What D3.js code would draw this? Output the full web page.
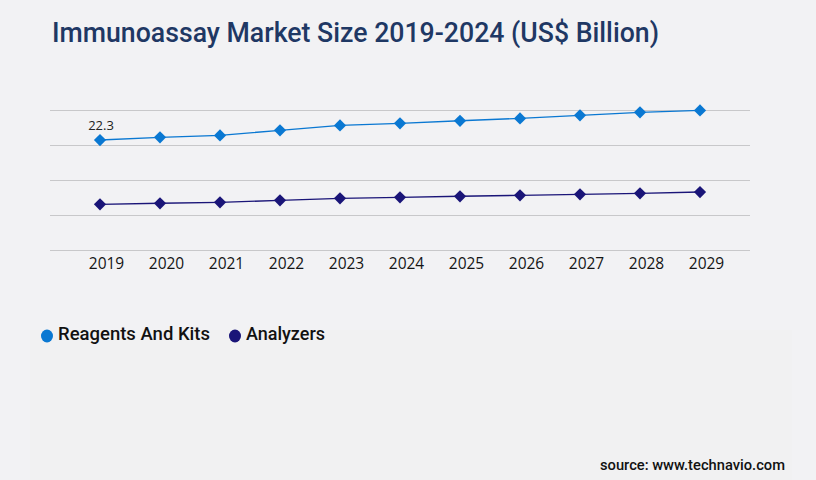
<!DOCTYPE html>
<html>
<head>
<meta charset="utf-8">
<script src="https://cdn.jsdelivr.net/npm/d3@7"></script>
<style>
  html, body { margin: 0; padding: 0; background: #f2f2f4; }
  svg { display: block; }
</style>
</head>
<body>
<svg id="chart" width="816" height="480"></svg>
<script>
// Данни
const years = ["2019", "2020", "2021", "2022", "2023", "2024", "2025", "2026", "2027", "2028", "2029"];
const reagentsAndKits = [22.3, 22.85, 23.25, 24.27, 25.28, 25.69, 26.21, 26.7, 27.31, 27.92, 28.32];
const analyzers = [9.26, 9.47, 9.67, 10.07, 10.48, 10.68, 10.89, 11.09, 11.29, 11.49, 11.76];
const yTicks = [0, 7.1, 14.2, 21.3, 28.4];

const series = [
  { name: "Reagents And Kits", values: reagentsAndKits, color: "#0a78d2" },
  { name: "Analyzers", values: analyzers, color: "#1a1578" },
];

const svg = d3.select("#chart");

// по-светъл панел отдолу
svg.append("rect")
  .attr("x", 30).attr("y", 330)
  .attr("width", 762).attr("height", 150)
  .attr("fill", "#f1f1f2");

svg.append("text")
  .attr("x", 52).attr("y", 42)
  .attr("font-family", "Roboto, sans-serif")
  .attr("font-weight", 500)
  .attr("font-size", 28)
  .attr("fill", "#1f3864")
  .attr("textLength", 607)
  .attr("lengthAdjust", "spacingAndGlyphs")
  .text("Immunoassay Market Size 2019-2024 (US$ Billion)");

const x = d3.scalePoint().domain(years).range([100, 700]);
const y = d3.scaleLinear().domain([0, 28.4]).range([250, 110]);

// хоризонтални линии
svg.append("g")
  .selectAll("line")
  .data(yTicks)
  .join("line")
  .attr("x1", 50).attr("x2", 750)
  .attr("y1", (d) => Math.round(y(d)) + 0.5)
  .attr("y2", (d) => Math.round(y(d)) + 0.5)
  .attr("stroke", "#c8c8ca")
  .attr("stroke-width", 1);

// ос X (етикетите са леко изместени надясно като в оригинала)
const xAxis = svg.append("g")
  .attr("transform", "translate(6,250)")
  .call(d3.axisBottom(x).tickSize(0).tickPadding(8));
xAxis.select(".domain").remove();
xAxis.selectAll("text")
  .attr("font-family", "'Open Sans', sans-serif")
  .attr("font-size", 15.5)
  .attr("fill", "#151515");

const line = d3.line()
  .x((d, i) => x(years[i]))
  .y((d) => y(d));

const diamond = d3.symbol().type(d3.symbolDiamond2).size(95);

series.forEach((s) => {
  const g = svg.append("g");
  g.append("path")
    .datum(s.values)
    .attr("d", line)
    .attr("fill", "none")
    .attr("stroke", s.color)
    .attr("stroke-width", 1.4);
  g.selectAll("path.pt")
    .data(s.values)
    .join("path")
    .attr("class", "pt")
    .attr("d", diamond)
    .attr("transform", (d, i) => `translate(${x(years[i])},${y(d)})`)
    .attr("fill", s.color);
});

// етикет на първата стойност
svg.append("text")
  .attr("x", x(years[0]) + 1)
  .attr("y", y(reagentsAndKits[0]) - 10)
  .attr("text-anchor", "middle")
  .attr("font-family", "'Open Sans', sans-serif")
  .attr("font-size", 13)
  .attr("fill", "#222")
  .text(reagentsAndKits[0]);

// легенда
const legendX = [47, 235];
const legend = svg.append("g")
  .selectAll("g")
  .data(series)
  .join("g")
  .attr("transform", (d, i) => `translate(${legendX[i]},336)`);
legend.append("ellipse")
  .attr("rx", 6).attr("ry", 6.5)
  .attr("fill", (d) => d.color);
legend.append("text")
  .attr("x", 11).attr("y", 4)
  .attr("font-family", "Roboto, sans-serif")
  .attr("font-weight", 500)
  .attr("font-size", 18)
  .attr("fill", "#111")
  .attr("textLength", (d, i) => (i === 0 ? 152 : 79))
  .attr("lengthAdjust", "spacingAndGlyphs")
  .text((d) => d.name);

svg.append("text")
  .attr("x", 785).attr("y", 470)
  .attr("text-anchor", "end")
  .attr("font-family", "Roboto, sans-serif")
  .attr("font-weight", 500)
  .attr("font-size", 14)
  .attr("fill", "#111")
  .attr("textLength", 185)
  .attr("lengthAdjust", "spacingAndGlyphs")
  .text("source: www.technavio.com");
</script>
</body>
</html>
